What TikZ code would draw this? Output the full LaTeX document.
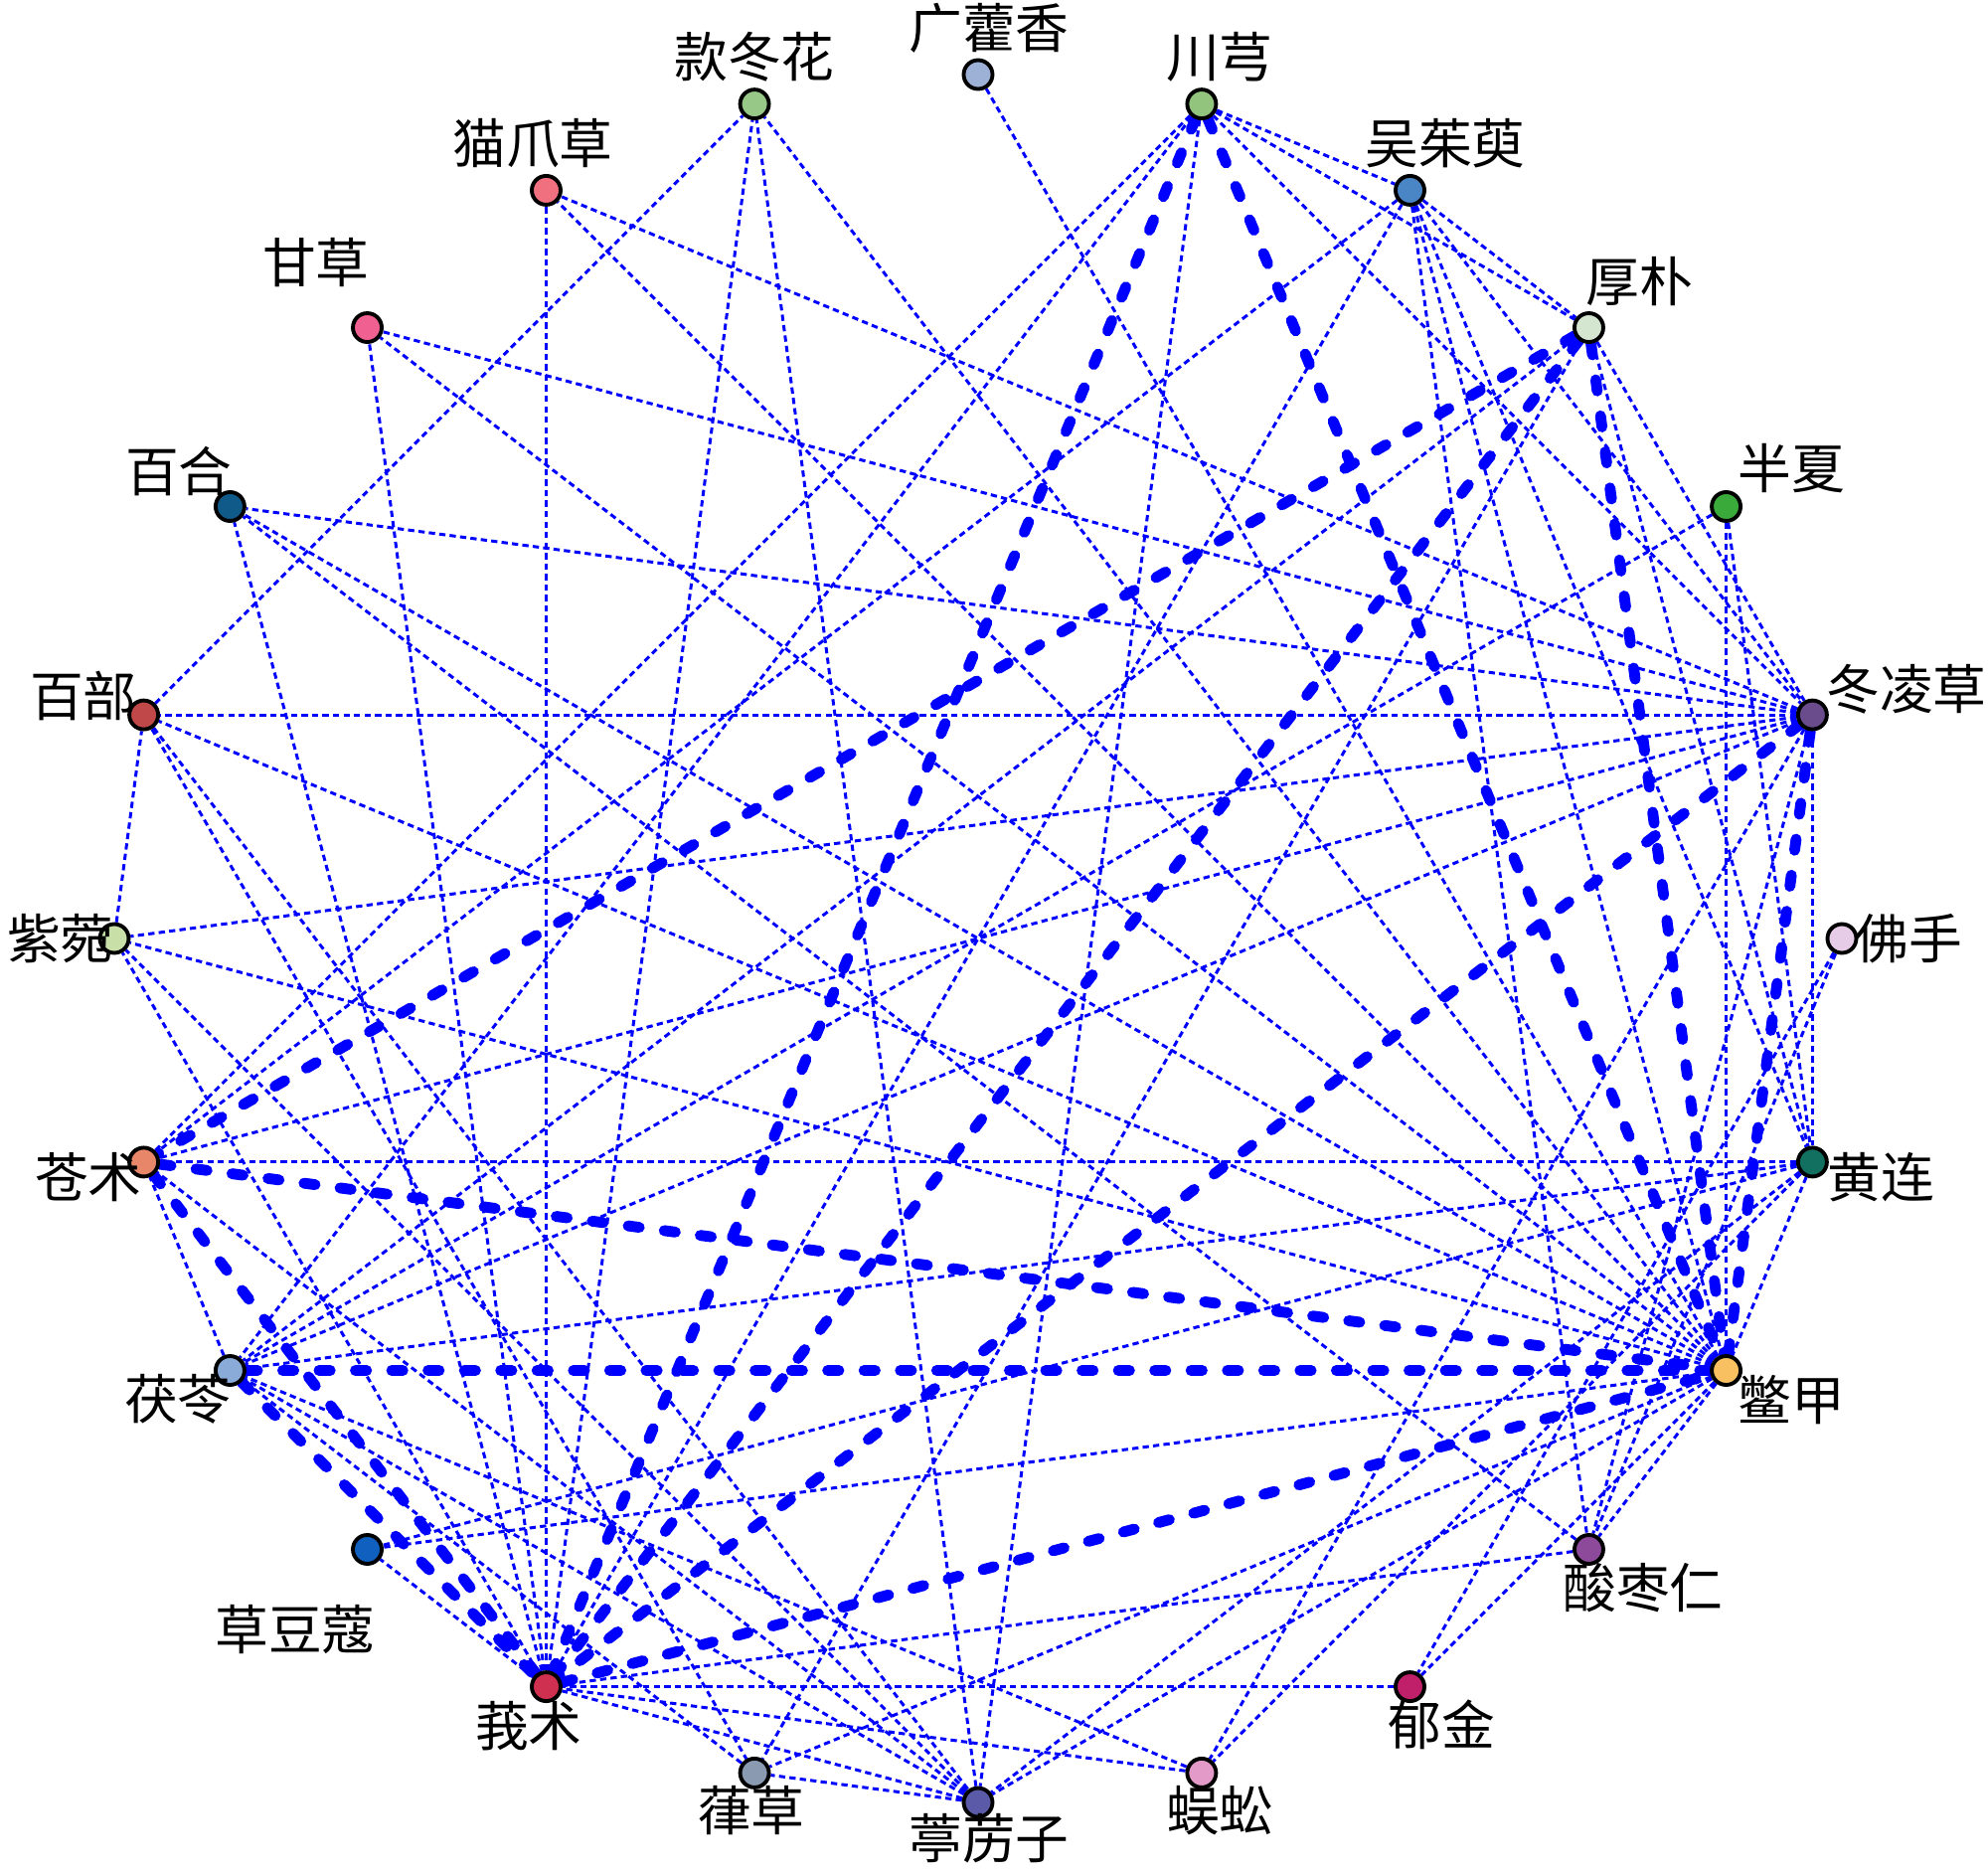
\documentclass[tikz,border=0pt]{standalone}
\usepackage{fontspec}
\newfontfamily\cjk{Noto Sans CJK SC}
\pgfdeclarelayer{bg}
\pgfsetlayers{bg,main}
\definecolor{c0}{HTML}{9DB0D5}
\definecolor{c1}{HTML}{93C47D}
\definecolor{c2}{HTML}{4A86C5}
\definecolor{c3}{HTML}{D4E6D0}
\definecolor{c4}{HTML}{3AAA3A}
\definecolor{c5}{HTML}{6A4C8C}
\definecolor{c6}{HTML}{E6CCE6}
\definecolor{c7}{HTML}{117060}
\definecolor{c8}{HTML}{F8C060}
\definecolor{c9}{HTML}{8E4A9A}
\definecolor{c10}{HTML}{C0206A}
\definecolor{c11}{HTML}{E49AC8}
\definecolor{c12}{HTML}{5A5AA8}
\definecolor{c13}{HTML}{8A9AB0}
\definecolor{c14}{HTML}{D03050}
\definecolor{c15}{HTML}{1060C0}
\definecolor{c16}{HTML}{8AAAD8}
\definecolor{c17}{HTML}{E8866A}
\definecolor{c18}{HTML}{C8E0A8}
\definecolor{c19}{HTML}{C04848}
\definecolor{c20}{HTML}{105A8A}
\definecolor{c21}{HTML}{F06090}
\definecolor{c22}{HTML}{F07080}
\definecolor{c23}{HTML}{98C888}
\definecolor{edgeblue}{HTML}{0000FF}
\begin{document}
\begin{tikzpicture}[
  hub/.style={circle,draw=black,line width=1.1pt,minimum size=0.29cm,inner sep=0pt},
  lbl/.style={font=\cjk\fontsize{15.3pt}{17pt}\selectfont,inner sep=0pt},
  weak/.style={edgeblue,line width=0.85pt,dash pattern=on 1.8pt off 1.2pt},
  strong/.style={edgeblue,line width=3.1pt,line cap=round,dash pattern=on 3.2pt off 7.2pt}]
\useasboundingbox (-9.84,-9.40) rectangle (10.16,9.44);
% nodes
\node[hub,fill=c0]  (n0)  at (90:8.69) {};
\node[hub,fill=c1]  (n1)  at (75:8.69) {};
\node[hub,fill=c2]  (n2)  at (60:8.69) {};
\node[hub,fill=c3]  (n3)  at (45:8.69) {};
\node[hub,fill=c4]  (n4)  at (30:8.69) {};
\node[hub,fill=c5]  (n5)  at (15:8.69) {};
\node[hub,fill=c6]  (n6)  at (0:8.69) {};
\node[hub,fill=c7]  (n7)  at (-15:8.69) {};
\node[hub,fill=c8]  (n8)  at (-30:8.69) {};
\node[hub,fill=c9]  (n9)  at (-45:8.69) {};
\node[hub,fill=c10] (n10) at (-60:8.69) {};
\node[hub,fill=c11] (n11) at (-75:8.69) {};
\node[hub,fill=c12] (n12) at (-90:8.69) {};
\node[hub,fill=c13] (n13) at (-105:8.69) {};
\node[hub,fill=c14] (n14) at (-120:8.69) {};
\node[hub,fill=c15] (n15) at (-135:8.69) {};
\node[hub,fill=c16] (n16) at (-150:8.69) {};
\node[hub,fill=c17] (n17) at (-165:8.69) {};
\node[hub,fill=c18] (n18) at (180:8.69) {};
\node[hub,fill=c19] (n19) at (165:8.69) {};
\node[hub,fill=c20] (n20) at (150:8.69) {};
\node[hub,fill=c21] (n21) at (135:8.69) {};
\node[hub,fill=c22] (n22) at (120:8.69) {};
\node[hub,fill=c23] (n23) at (105:8.69) {};
% labels
\node[lbl] (l0)  at (0.11,9.16)  {广藿香};
\node[lbl] (l1)  at (2.43,8.87)  {川芎};
\node[lbl] (l2)  at (4.70,8.00)  {吴茱萸};
\node[lbl] (l3)  at (6.65,6.61)  {厚朴};
\node[lbl] (l4)  at (8.18,4.73)  {半夏};
\node[lbl] (l5)  at (9.34,2.51)  {冬凌草};
\node[lbl] (l6)  at (9.36,0)     {佛手};
\node[lbl] (l7)  at (9.08,-2.40) {黄连};
\node[lbl] (l8)  at (8.18,-4.64) {鳖甲};
\node[lbl] (l9)  at (6.69,-6.53) {酸枣仁};
\node[lbl] (l10) at (4.66,-7.91) {郁金};
\node[lbl] (l11) at (2.43,-8.77) {蜈蚣};
\node[lbl] (l12) at (0.11,-9.05) {葶苈子};
\node[lbl] (l13) at (-2.28,-8.77) {葎草};
\node[lbl] (l14) at (-4.52,-7.92) {莪术};
\node[lbl] (l15) at (-6.87,-6.95) {草豆蔻};
\node[lbl] (l16) at (-8.05,-4.63) {茯苓};
\node[lbl] (l17) at (-8.95,-2.40) {苍术};
\node[lbl] (l18) at (-9.23,0)    {紫菀};
\node[lbl] (l19) at (-9.00,2.44) {百部};
\node[lbl] (l20) at (-8.04,4.70) {百合};
\node[lbl] (l21) at (-6.66,6.80) {甘草};
\node[lbl] (l22) at (-4.48,8.00) {猫爪草};
\node[lbl] (l23) at (-2.25,8.87) {款冬花};
\begin{pgfonlayer}{bg}
% thin edges
\foreach \a/\b in {0/8,
  1/2,1/3,1/5,1/12,1/16,1/17,
  2/3,2/5,2/7,2/8,2/9,2/17,2/14,
  3/5,3/7,3/13,3/16,
  4/7,4/8,4/16,
  5/7,5/16,5/17,5/18,5/19,5/20,5/21,5/22,5/11,5/9,
  6/9,6/10,
  7/8,7/11,7/12,7/15,7/16,7/17,
  8/9,8/10,8/12,8/13,8/15,8/18,8/19,8/20,8/21,8/22,8/23,
  9/14,9/20,
  10/14,
  11/14,11/16,
  12/13,12/16,12/17,12/18,12/23,12/14,
  13/16,
  14/15,14/20,14/21,14/22,14/23,14/18,
  16/17,
  18/19,
  19/23,19/13,19/12}
  \draw[weak] (n\a) -- (n\b);
% bold edges
\foreach \a/\b in {1/14,1/8,3/17,3/14,3/8,5/14,5/8,17/8,17/14,16/8,16/14,14/8}
  \draw[strong] (n\a) -- (n\b);
\end{pgfonlayer}
\end{tikzpicture}
\end{document}
